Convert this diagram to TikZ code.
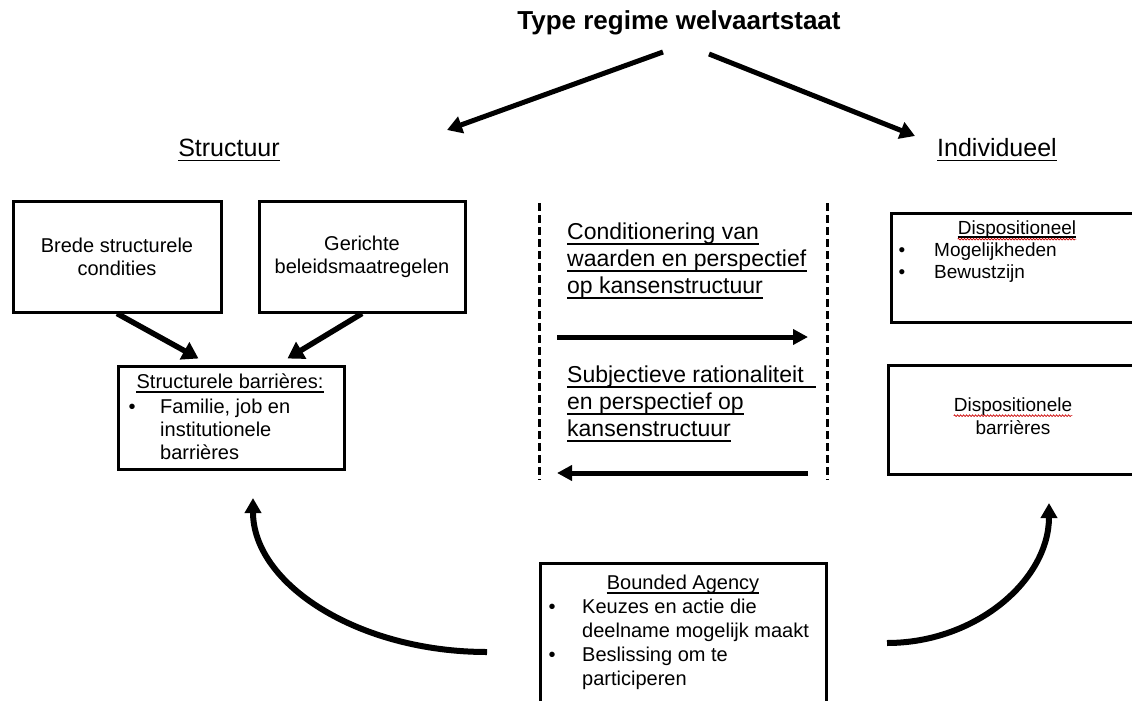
\documentclass[tikz,border=0pt]{standalone}
\usepackage{fontspec}
\setmainfont{Liberation Sans}
\usetikzlibrary{arrows.meta,calc,decorations.pathmorphing}
\newlength\bdwidth
\newcommand\ulnode[3]{\draw[line width=1.7pt] ($(#1.base west)+(0,#2)$) -- ($(#1.base east)+(#3,#2)$);}
\tikzset{
  basetxt/.style={inner sep=0pt, font=\fontsize{20}{23}\selectfont},
  rtxt/.style={inner sep=0pt, font=\fontsize{19}{23}\selectfont},
  hdr/.style={inner sep=0pt, font=\fontsize{25}{30}\selectfont},
  midtxt/.style={inner sep=0pt, font=\fontsize{23}{27}\selectfont, anchor=mid west},
  box/.style={draw=black, line width=3pt, inner sep=0pt, align=center, font=\fontsize{20}{23}\selectfont},
  arr/.style={line width=5.5pt, -{Triangle[length=16pt,width=19pt]}},
  tarr/.style={line width=5pt, -{Triangle[length=15pt,width=17pt]}},
  marr/.style={line width=5pt, -{Triangle[length=15pt,width=15pt]}},
  carr/.style={line width=6pt, -{Triangle[length=15pt,width=16pt]}},
  dashline/.style={line width=3pt, dash pattern=on 8pt off 4pt},
  squig/.style={draw=red!80!black, line width=0.7pt, decorate, decoration={snake, amplitude=0.8pt, segment length=3pt}},
}
\begin{document}
\begin{tikzpicture}[x=1pt,y=-1pt]
\useasboundingbox (0,0) rectangle (1132,701);
\fill[white] (0,0) rectangle (1132,701);

% title and headers
\node[inner sep=0pt, anchor=mid, font=\bfseries\fontsize{26}{30}\selectfont] (title) at (679,26.5) {Type regime welvaartstaat};
\node[hdr, anchor=mid] (str) at (229,154) {Structuur};
\ulnode{str}{4}{0}
\node[hdr, anchor=mid west] (ind) at (937,154) {Individueel};
\ulnode{ind}{4}{0}

\coordinate (tls) at (663,52);
\coordinate (tle) at (447,130);
\coordinate (trs) at (709,54);
\coordinate (tre) at (915,136);
\draw[tarr] (tls) -- (tle);
\draw[tarr] (trs) -- (tre);

% left boxes
\node[box, minimum width=208pt, minimum height=111pt] (b1) at (117,256.5) {Brede structurele\\condities};
\node[box, minimum width=206pt, minimum height=111pt] (b2) at (362,256.5) {Gerichte\\beleidsmaatregelen};
\node[box, minimum width=226pt, minimum height=103pt] (b3) at (231,417.5) {};

\draw[arr] (b1.south) -- ($(b3.north west)+(82,-6)$);
\draw[arr] (b2.south) -- ($(b3.north west)+(171,-6)$);

\node[basetxt, anchor=mid] (b3h) at (230,386) {Structurele barrières:};
\ulnode{b3h}{3.5}{0}
\node[basetxt, anchor=mid] (b3b) at (132,410.5) {•};
\node[basetxt, anchor=mid west] (b3l1) at (160,410.5) {Familie, job en};
\node[basetxt, anchor=mid west] (b3l2) at (160,433.5) {institutionele};
\node[basetxt, anchor=mid west] (b3l3) at (160,456.5) {barrières};

% middle
\coordinate (d1t) at (539,203);
\coordinate (d1b) at (539,480);
\coordinate (d2t) at (827,203);
\coordinate (d2b) at (827,480);
\draw[dashline] (d1t) -- (d1b);
\draw[dashline] (d2t) -- (d2b);

\node[midtxt] (c1) at (567,237) {Conditionering van};
\node[midtxt] (c2) at (567,264) {waarden en perspectief};
\node[midtxt] (c3) at (567,291) {op kansenstructuur};
\ulnode{c1}{4.5}{0}
\ulnode{c2}{4.5}{0}
\ulnode{c3}{4.5}{0}
\coordinate (m1s) at (557,337);
\coordinate (m1e) at (808,337);
\draw[marr] (m1s) -- (m1e);

\node[midtxt] (s1) at (567,380) {Subjectieve rationaliteit};
\node[midtxt] (s2) at (567,407) {en perspectief op};
\node[midtxt] (s3) at (567,434) {kansenstructuur};
\ulnode{s1}{4.5}{12}
\ulnode{s2}{4.5}{0}
\ulnode{s3}{4.5}{0}
\coordinate (m2s) at (808,473);
\coordinate (m2e) at (557,473);
\draw[marr] (m2s) -- (m2e);

% right boxes
\node[box, minimum width=252pt, minimum height=109pt] (du) at (1017,267.5) {};
\node[rtxt, anchor=mid] (duh) at (1017,231.5) {Dispositioneel};
\ulnode{duh}{3}{0}
\draw[squig] ($(duh.base west)+(0,5)$) -- ($(duh.base east)+(0,5)$);
\node[rtxt, anchor=mid] (dub1) at (902,253.5) {•};
\node[rtxt, anchor=mid west] (dul1) at (934,253.5) {Mogelijkheden};
\node[rtxt, anchor=mid] (dub2) at (902,275.5) {•};
\node[rtxt, anchor=mid west] (dul2) at (934,275.5) {Bewustzijn};

\node[box, minimum width=250pt, minimum height=109pt] (dl) at (1013,419.5) {};
\node[rtxt, anchor=mid] (dll1) at (1013,409) {Dispositionele};
\draw[squig] ($(dll1.base west)+(0,4)$) -- ($(dll1.base east)+(0,4)$);
\node[rtxt, anchor=mid] (dll2) at (1013,432) {barrières};

% bottom box
\node[box, minimum width=286pt, minimum height=166pt] (ba) at (683,646) {};
\node[basetxt, anchor=mid] (bah) at (683,587) {Bounded Agency};
\ulnode{bah}{3.5}{0}
\settowidth{\bdwidth}{\fontsize{20}{23}\selectfont Bounded}
\draw[squig] ($(bah.base west)+(0,5.5)$) -- ++(\bdwidth,0);
\node[basetxt, anchor=mid] (bab1) at (552,611) {•};
\node[basetxt, anchor=mid west] (bal1) at (582,611) {Keuzes en actie die};
\node[basetxt, anchor=mid west] (bal2) at (582,635) {deelname mogelijk maakt};
\node[basetxt, anchor=mid] (bab2) at (552,659) {•};
\node[basetxt, anchor=mid west] (bal3) at (582,659) {Beslissing om te};
\node[basetxt, anchor=mid west] (bal4) at (582,683) {participeren};

% curved arrows
\coordinate (cls) at (487,652);
\coordinate (cle) at (253,498);
\draw[carr] (cls) .. controls (358,652) and (253,584) .. (cle);
\coordinate (crs) at (887,643);
\coordinate (cre) at (1049,503);
\draw[carr] (crs) .. controls (976,643) and (1049,580) .. (cre);
\end{tikzpicture}
\end{document}
